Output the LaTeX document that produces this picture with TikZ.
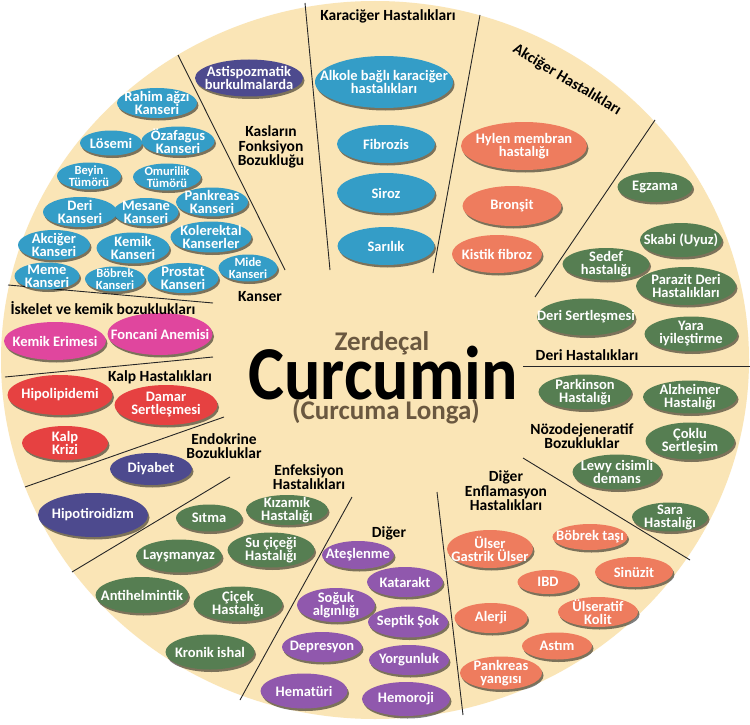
\documentclass[tikz,border=0pt]{standalone}
\usepackage{fontspec}
\setmainfont{Carlito}
\usetikzlibrary{shapes.geometric,shadows}
\definecolor{beige}{RGB}{250,229,182}
\definecolor{cblue}{RGB}{52,157,199}
\definecolor{cdark}{RGB}{77,74,142}
\definecolor{csalmon}{RGB}{238,124,94}
\definecolor{cgreen}{RGB}{86,126,82}
\definecolor{cmagenta}{RGB}{224,70,158}
\definecolor{cred}{RGB}{230,65,65}
\definecolor{cpurple}{RGB}{144,88,173}
\definecolor{cbrown}{RGB}{106,88,64}
\tikzset{
  bub/.style={ellipse, draw=none, inner sep=0pt,
    drop shadow={shadow xshift=1.5pt, shadow yshift=-2.5pt, opacity=0.5, fill=black}},
  btxt/.style={text=white, font=\bfseries\fontsize{14.5}{13}\selectfont, align=center, inner sep=0pt},
  small/.style={font=\bfseries\fontsize{12.5}{11.5}\selectfont},
  lab/.style={font=\bfseries\fontsize{15.5}{14.5}\selectfont, align=center, inner sep=0pt},
  sepline/.style={draw=black!85, line width=0.9pt}
}
\newcommand\Bub[8][]{%
  \node[bub, fill=#2, minimum width=#5pt, minimum height=#6pt] (#7) at (#3,#4) {};
  \node[btxt,#1] (#7t) at (#7) {#8};}
\begin{document}
\begin{tikzpicture}[x=1pt,y=-1pt]
\useasboundingbox (0,0) rectangle (750,725);
\clip (0,0) rectangle (750,725);
\fill[white] (0,0) rectangle (750,725);
\fill[beige] (375,360) ellipse [x radius=374, y radius=359];
% separators
\draw[sepline] (178,55) -- (285,270);
\draw[sepline] (305,3) -- (330,270);
\draw[sepline] (480,15) -- (433,273);
\draw[sepline] (655,120) -- (535,297);
\draw[sepline] (523,366) -- (750,366);
\draw[sepline] (523,458) -- (690,560);
\draw[sepline] (437,492) -- (463,715);
\draw[sepline] (352,497) -- (240,700);
\draw[sepline] (72,572) -- (230,477);
\draw[sepline] (25,487) -- (224,417);
\draw[sepline] (5,377) -- (213,357);
\draw[sepline] (8,285) -- (213,303);
% Kanser
\Bub{cblue}{157}{103}{80}{30}{rahim}{Rahim ağzı\\Kanseri}
\Bub{cblue}{111}{143}{62}{25}{losemi}{Lösemi}
\Bub{cblue}{178}{141}{73}{29}{ozafagus}{Özafagus\\Kanseri}
\Bub[small]{cblue}{89}{176}{64}{27}{beyin}{Beyin\\Tümörü}
\Bub[small]{cblue}{167}{177}{68}{27}{omurilik}{Omurilik\\Tümörü}
\Bub{cblue}{212}{202}{72}{29}{pankreasK}{Pankreas\\Kanseri}
\Bub{cblue}{80}{212}{74}{30}{deriK}{Deri\\Kanseri}
\Bub{cblue}{146}{212}{65}{28}{mesane}{Mesane\\Kanseri}
\Bub{cblue}{211}{237}{81}{31}{kolerektal}{Kolerektal\\Kanserler}
\Bub{cblue}{54}{245}{72}{30}{akcigerK}{Akciğer\\Kanseri}
\Bub{cblue}{133}{248}{73}{31}{kemikK}{Kemik\\Kanseri}
\Bub{cblue}{47}{276}{65}{27}{meme}{Meme\\Kanseri}
\Bub[small]{cblue}{115}{279}{60}{25}{bobrekK}{Böbrek\\Kanseri}
\Bub{cblue}{183}{278}{71}{30}{prostat}{Prostat\\Kanseri}
\Bub[small]{cblue}{248}{268}{59}{27}{mide}{Mide\\Kanseri}
% Kaslar
\Bub{cdark}{249}{78}{108}{37}{astis}{Astispozmatik\\burkulmalarda}
% Karaciger
\Bub{cblue}{384}{82}{138}{52}{alkol}{Alkole bağlı karaciğer\\hastalıkları}
\Bub{cblue}{386}{144}{98}{38}{fibrozis}{Fibrozis}
\Bub{cblue}{386}{193}{98}{40}{siroz}{Siroz}
\Bub{cblue}{386}{246}{97}{38}{sarilik}{Sarılık}
% Akciger
\Bub{csalmon}{524}{146}{126}{48}{hylen}{Hylen membran\\hastalığı}
\Bub{csalmon}{512}{206}{99}{40}{bronsit}{Bronşit}
\Bub{csalmon}{497}{254}{90}{38}{kistik}{Kistik fibroz}
% Deri
\Bub{cgreen}{655}{187}{75}{30}{egzama}{Egzama}
\Bub{cgreen}{681}{240}{82}{34}{skabi}{Skabi (Uyuz)}
\Bub{cgreen}{606}{264}{87}{32}{sedef}{Sedef\\hastalığı}
\Bub{cgreen}{686}{286}{100}{38}{parazit}{Parazit Deri\\Hastalıkları}
\Bub{cgreen}{586}{317}{98}{37}{deriS}{Deri Sertleşmesi}
\Bub{cgreen}{691}{334}{93}{35}{yara}{Yara\\iyileştirme}
% Noro
\Bub{cgreen}{585}{392}{93}{35}{parkinson}{Parkinson\\Hastalığı}
\Bub{cgreen}{690}{397}{94}{33}{alzheimer}{Alzheimer\\Hastalığı}
\Bub{cgreen}{690}{441}{89}{37}{coklu}{Çoklu\\Sertleşim}
\Bub{cgreen}{617}{472}{89}{35}{lewy}{Lewy cisimli\\demans}
\Bub{cgreen}{670}{517}{76}{29}{sara}{Sara\\Hastalığı}
% Diger enflamasyon
\Bub{csalmon}{490}{549}{86}{38}{ulser}{Ülser\\Gastrik Ülser}
\Bub{csalmon}{590}{537}{75}{26}{bobrekT}{Böbrek taşı}
\Bub{csalmon}{634}{572}{78}{30}{sinuzit}{Sinüzit}
\Bub{csalmon}{548}{582}{61}{24}{ibd}{IBD}
\Bub{csalmon}{491}{618}{73}{30}{alerji}{Alerji}
\Bub{csalmon}{598}{612}{80}{30}{kolit}{Ülseratif\\Kolit}
\Bub{csalmon}{557}{646}{70}{27}{astim}{Astım}
\Bub{csalmon}{501}{673}{82}{33}{pankreasY}{Pankreas\\yangısı}
% Diger
\Bub{cpurple}{358}{555}{72}{28}{ates}{Ateşlenme}
\Bub{cpurple}{405}{582}{76}{30}{katarakt}{Katarakt}
\Bub{cpurple}{336}{605}{78}{34}{soguk}{Soğuk\\algınlığı}
\Bub{cpurple}{408}{622}{80}{31}{septik}{Septik Şok}
\Bub{cpurple}{322}{647}{80}{30}{depresyon}{Depresyon}
\Bub{cpurple}{409}{660}{80}{30}{yorgunluk}{Yorgunluk}
\Bub{cpurple}{304}{691}{87}{35}{hematuri}{Hematüri}
\Bub{cpurple}{406}{699}{88}{34}{hemoroji}{Hemoroji}
% Enfeksiyon
\Bub{cgreen}{287}{510}{82}{30}{kizamik}{Kızamık\\Hastalığı}
\Bub{cgreen}{209}{518}{66}{27}{sitma}{Sıtma}
\Bub{cgreen}{179}{556}{86}{33}{laysmanyaz}{Layşmanyaz}
\Bub{cgreen}{271}{550}{87}{35}{sucicegi}{Su çiçeği\\Hastalığı}
\Bub{cgreen}{142}{595}{93}{36}{antihel}{Antihelmintik}
\Bub{cgreen}{238}{604}{89}{35}{cicek}{Çiçek\\Hastalığı}
\Bub{cgreen}{210}{652}{89}{35}{kronik}{Kronik ishal}
% Endokrin
\Bub{cdark}{151}{469}{82}{32}{diyabet}{Diyabet}
\Bub{cdark}{93}{515}{110}{44}{hipotiroid}{Hipotiroidizm}
% Kalp
\Bub{cred}{60}{395}{105}{40}{hipolip}{Hipolipidemi}
\Bub{cred}{166}{405}{103}{40}{damar}{Damar\\Sertleşmesi}
\Bub{cred}{65}{443}{86}{34}{kalpkrizi}{Kalp\\Krizi}
% Iskelet
\Bub{cmagenta}{55}{341}{102}{38}{kemikE}{Kemik Erimesi}
\Bub{cmagenta}{160}{334}{105}{42}{foncani}{Foncani Anemisi}
% section labels
\node[lab] (lkanser) at (260,297) {Kanser};
\node[lab] (liskelet) at (103,308) {İskelet ve kemik bozuklukları};
\node[lab] (lkalp) at (160,377) {Kalp Hastalıkları};
\node[lab] (lendo) at (224,446) {Endokrine\\Bozukluklar};
\node[lab] (lenf) at (309,477) {Enfeksiyon\\Hastalıkları};
\node[lab] (ldiger) at (389,533) {Diğer};
\node[lab] (ldigerenf) at (506,491) {Diğer\\Enflamasyon\\Hastalıkları};
\node[lab] (lnoro) at (582,436) {Nözodejeneratif\\Bozukluklar};
\node[lab] (lderi) at (587,355) {Deri Hastalıkları};
\node[lab, rotate=-31] (lakciger) at (567,80) {Akciğer Hastalıkları};
\node[lab] (lkaraciger) at (388,16) {Karaciğer Hastalıkları};
\node[lab] (lkas) at (271,147) {Kasların\\Fonksiyon\\Bozukluğu};
% center
\node[anchor=base, inner sep=0pt, text=cbrown, font=\bfseries\fontsize{27}{27}\selectfont] (zerdecal) at (382,350) {Zerdeçal};
\node[anchor=base, inner sep=0pt, text=black, font=\bfseries\fontsize{68}{68}\selectfont] (curcumin) at (383,399) {\scalebox{1}[1.12]{Curcumin}};
\node[anchor=base, inner sep=0pt, text=cbrown, font=\bfseries\fontsize{27}{27}\selectfont] (longa) at (386,419) {(Curcuma Longa)};
\end{tikzpicture}
\end{document}
